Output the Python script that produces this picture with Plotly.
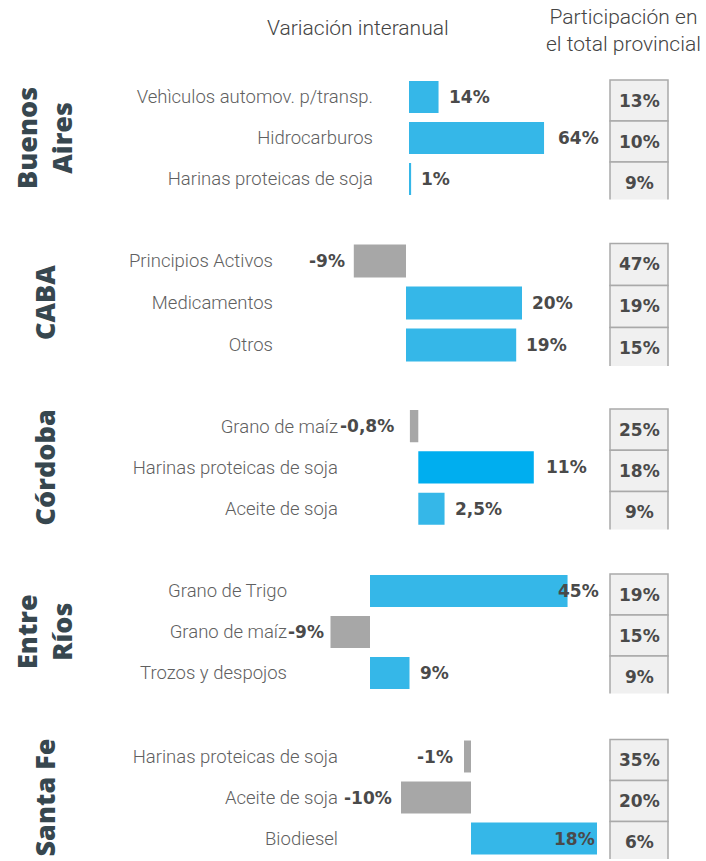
import plotly.graph_objects as go

W, H = 706, 861

# ---------------- data ----------------
province_names = ["Buenos<br>Aires", "CABA", "Córdoba", "Entre<br>Ríos", "Santa Fe"]

ba_products = ["Vehìculos automov. p/transp.", "Hidrocarburos", "Harinas proteicas de soja"]
ba_variation = [14, 64, 1]
ba_share = [13, 10, 9]

caba_products = ["Principios Activos", "Medicamentos", "Otros"]
caba_variation = [-9, 20, 19]
caba_share = [47, 19, 15]

cba_products = ["Grano de maíz", "Harinas proteicas de soja", "Aceite de soja"]
cba_variation = [-0.8, 11, 2.5]
cba_share = [25, 18, 9]

er_products = ["Grano de Trigo", "Grano de maíz", "Trozos y despojos"]
er_variation = [45, -9, 9]
er_share = [19, 15, 9]

sf_products = ["Harinas proteicas de soja", "Aceite de soja", "Biodiesel"]
sf_variation = [-1, -10, 18]
sf_share = [35, 20, 6]

header_variation = "Variación interanual"
header_share = "Participación en<br>el total provincial"

groups = [
    (province_names[0], ba_products, ba_variation, ba_share),
    (province_names[1], caba_products, caba_variation, caba_share),
    (province_names[2], cba_products, cba_variation, cba_share),
    (province_names[3], er_products, er_variation, er_share),
    (province_names[4], sf_products, sf_variation, sf_share),
]

# ---------------- style / layout ----------------
POS_COLOR = "#35B7E8"
NEG_COLOR = "#A7A7A7"
TEXT_COLOR = "#4A4A4A"
LABEL_COLOR = "#606060"
PROV_COLOR = "#37474F"
color_override = {(2, 1): "#00AEEF"}

group_style = [
    dict(top=76.5, row=41.0, zero=409.0, ppu=2.11, axis_left=376),
    dict(top=240.0, row=42.0, zero=406.0, ppu=5.8, axis_left=276),
    dict(top=405.5, row=41.3, zero=418.3, ppu=10.5, axis_left=341),
    dict(top=570.5, row=41.0, zero=370.0, ppu=4.39, axis_left=290),
    dict(top=736.0, row=41.0, zero=471.0, ppu=7.0, axis_left=341),
]
AXIS_RIGHT = 605
BOX_X0, BOX_X1 = 610, 668
BOX_OFFSET_PX = 3.5
prov_x = 44
VALUE_FONT = dict(family="DejaVu Sans", size=17, color=TEXT_COLOR, weight="bold")
# label placement overrides: (anchor, shift)
label_override = {
    (0, 1): ("left", 12),
    (2, 0): ("right", -14),
    (2, 1): ("left", 10),
    (3, 0): ("left", -12),
    (3, 1): ("right", -4),
    (4, 2): ("right", 0),
    (4, 0): ("right", -9),
}


def pct(v):
    return f"{v:g}".replace(".", ",") + "%"


fig = go.Figure()
layout = dict(
    width=W, height=H,
    margin=dict(l=0, r=0, t=0, b=0),
    paper_bgcolor="white", plot_bgcolor="rgba(0,0,0,0)",
    showlegend=False,
)
annotations = []
shapes = []

for i, (prov, products, variation, share) in enumerate(groups):
    st = group_style[i]
    n = i + 1
    xa = "x" if n == 1 else f"x{n}"
    ya = "y" if n == 1 else f"y{n}"
    xkey = "xaxis" if n == 1 else f"xaxis{n}"
    ykey = "yaxis" if n == 1 else f"yaxis{n}"

    colors = [color_override.get((i, j), POS_COLOR if v >= 0 else NEG_COLOR)
              for j, v in enumerate(variation)]
    fig.add_trace(go.Bar(
        x=variation, y=products, orientation="h",
        xaxis=xa, yaxis=ya,
        marker=dict(color=colors, line=dict(width=0)),
        width=0.78, hoverinfo="skip",
    ))

    top = st["top"]
    bottom = top + 3 * st["row"]
    layout[xkey] = dict(
        domain=[st["axis_left"] / W, AXIS_RIGHT / W],
        range=[(st["axis_left"] - st["zero"]) / st["ppu"], (AXIS_RIGHT - st["zero"]) / st["ppu"]],
        visible=False, anchor=ya, fixedrange=True,
    )
    layout[ykey] = dict(
        domain=[1 - bottom / H, 1 - top / H],
        type="category", categoryorder="array", categoryarray=products,
        range=[2.5, -0.5], anchor=xa, fixedrange=True,
        showgrid=False, zeroline=False, showline=False, ticks="",
        tickfont=dict(family="Roboto", size=18.5, color=LABEL_COLOR, weight=300),
        ticklabelstandoff=2,
    )

    # value labels
    for j, v in enumerate(variation):
        anchor, shift = label_override.get((i, j), ("left", 8) if v >= 0 else ("right", -7))
        annotations.append(dict(
            x=v, y=j, xref=xa, yref=ya, text=pct(v), showarrow=False,
            xanchor=anchor, xshift=shift, yanchor="middle", font=VALUE_FONT,
        ))

    # share boxes
    off = BOX_OFFSET_PX / st["row"]
    for j, s in enumerate(share):
        shapes.append(dict(
            type="rect", xref="paper", yref=ya,
            x0=BOX_X0 / W, x1=BOX_X1 / W, y0=j - 0.5 + off, y1=j + 0.5 + off,
            fillcolor="#F0F0F0", line=dict(color="#A9A9A9", width=1.5), layer="below",
        ))
        annotations.append(dict(
            x=(BOX_X0 + BOX_X1) / 2 / W, y=j + off, xref="paper", yref=ya,
            text=pct(s), showarrow=False, xanchor="center", yanchor="middle",
            font=VALUE_FONT,
        ))

    # province label
    annotations.append(dict(
        x=prov_x / W, y=1 - (top + bottom) / 2 / H, xref="paper", yref="paper",
        text=prov, textangle=-90, showarrow=False, xanchor="center", yanchor="middle",
        font=dict(family="Open Sans", size=27, color=PROV_COLOR, weight=800),
    ))

annotations.append(dict(
    x=358 / W, y=1 - 28 / H, xref="paper", yref="paper", text=header_variation,
    showarrow=False, xanchor="center", yanchor="middle",
    font=dict(family="Roboto", size=21, color="#444444", weight=300),
))
annotations.append(dict(
    x=623 / W, y=1 - 30 / H, xref="paper", yref="paper", text=header_share,
    showarrow=False, xanchor="center", yanchor="middle",
    font=dict(family="Roboto", size=21, color="#444444", weight=300),
))

layout["annotations"] = annotations
layout["shapes"] = shapes
fig.update_layout(**layout)
fig.write_html("out.html", config={"displayModeBar": False},
               post_script="document.body.style.margin='0';")
